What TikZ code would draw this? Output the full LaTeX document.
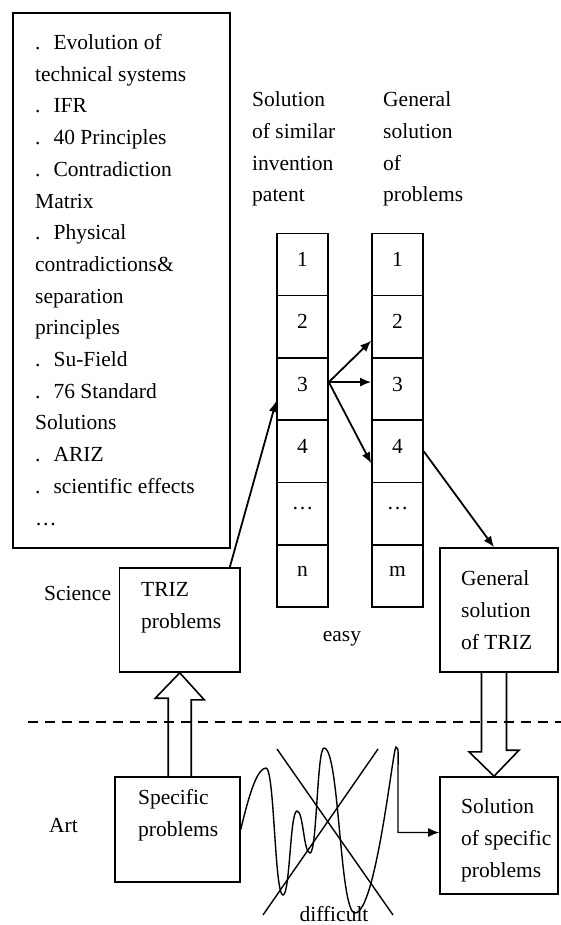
\documentclass[tikz,border=0pt]{standalone}
\usepackage{fontspec}
\setmainfont{Liberation Serif}
\usetikzlibrary{arrows.meta}

\newcommand{\dotitem}{.\hspace{13pt}}

\begin{document}
\begin{tikzpicture}[x=1pt, y=-1pt,
    every node/.style={font=\fontsize{21.5}{31.7}\selectfont, inner sep=0},
    txt/.style={align=left, anchor=base west},
    box/.style={draw, line width=1.6pt},
    cell/.style={draw, line width=1.6pt, minimum width=51, minimum height=62.3, text depth=10pt},
    arr/.style={line width=1.8pt, -{Latex[length=11pt,width=9pt]}},
    fat/.style={line width=1.6pt, line join=miter}]
    \useasboundingbox (0,0) rectangle (561,925);

    % text nodes are placed by the baseline of their last line
    \node [box, minimum width=217, minimum height=535] (tools) at (121.5,280.5) {};
    \node [txt] (toolslist) at (35,525) {\dotitem Evolution of\\technical systems\\\dotitem IFR\\\dotitem 40 Principles\\\dotitem Contradiction\\Matrix\\\dotitem Physical\\contradictions\&\\separation\\principles\\\dotitem Su-Field\\\dotitem 76 Standard\\Solutions\\\dotitem ARIZ\\\dotitem scientific effects\\\ldots};

    \node [txt] (simhead) at (252,202) {Solution\\of similar\\invention\\patent};
    \node [txt] (genhead) at (383,202) {General\\solution\\of\\problems};

    \foreach \lab [count=\i] in {1,2,3,4,{\ldots},n}
        \node [cell] (a\i) at (302.5,202.2+62.3*\i) {\lab};
    \foreach \lab [count=\i] in {1,2,3,4,{\ldots},m}
        \node [cell] (b\i) at (397.5,202.2+62.3*\i) {\lab};

    \node [box, minimum width=120.5, minimum height=104] (triz) at (179.75,620) {};
    \node [txt] (triztext) at (141,628) {TRIZ\\problems};
    \node [anchor=base west] (science) at (44,600) {Science};

    \node [box, minimum width=118, minimum height=124] (gen) at (499,610) {};
    \node [txt] (gentext) at (461,649) {General\\solution\\of TRIZ};

    \node [box, minimum width=125, minimum height=105] (spec) at (177.5,829.5) {};
    \node [txt] (spectext) at (138,836) {Specific\\problems};
    \node [anchor=base west] (art) at (49,832) {Art};

    \node [box, minimum width=118, minimum height=117] (sol) at (499,835.5) {};
    \node [txt] (soltext) at (461,877) {Solution\\of specific\\problems};

    \node [anchor=base] (easy) at (342,641) {easy};
    \node [anchor=base] (difficult) at (334,921) {difficult};

    \draw [arr] ([xshift=-11pt]triz.north east) -- ([yshift=20pt]a3.south west);
    \draw [arr] ([yshift=7pt]a3.east) -- ([yshift=18pt]b2.south west);
    \draw [arr] ([yshift=7pt]a3.east) -- ([yshift=7pt]b3.west);
    \draw [arr] ([yshift=7pt]a3.east) -- ([yshift=20pt]b4.south west);
    \draw [arr] (b4.east) -- ([xshift=-5pt]gen.north);

    \draw [fat] ([xshift=-11.5pt]triz.south |- spec.north) -- ++(0,-78) -- ++(-13,0)
        -- (triz.south) -- ++(24.5,27) -- ++(-13,0) -- ([xshift=11.5pt]triz.south |- spec.north);
    \draw [fat] ([xshift=-17.5pt]gen.south) -- ++(0,79) -- ++(-12.5,0)
        -- ([xshift=-5pt]sol.north) -- ++(25,-26) -- ++(-12.5,0) -- ([xshift=7.5pt]gen.south);

    \draw [line width=1.5pt, dash pattern=on 10.5pt off 6.5pt] (27.5,722) -- (561,722);

    \draw [line width=1.4pt] (277,749) -- (393,915);
    \draw [line width=1.4pt] (378,749) -- (263,915);

    \draw [arr, line width=1.4pt] (spec.east) .. controls (250,790) and (258,768) .. (266,768)
        .. controls (274.5,768) and (274.5,895) .. (283,895)
        .. controls (290,895) and (290,811) .. (297,811)
        .. controls (303.5,811) and (303.5,853) .. (310,853)
        .. controls (317,853) and (317,748) .. (324,748)
        .. controls (339.5,748) and (339.5,913) .. (355,913)
        .. controls (376,913) and (393,747) .. (396,747)
        .. controls (399,747) and (398,756) .. (398,770)
        |- ([yshift=3pt]sol.west);
\end{tikzpicture}
\end{document}
